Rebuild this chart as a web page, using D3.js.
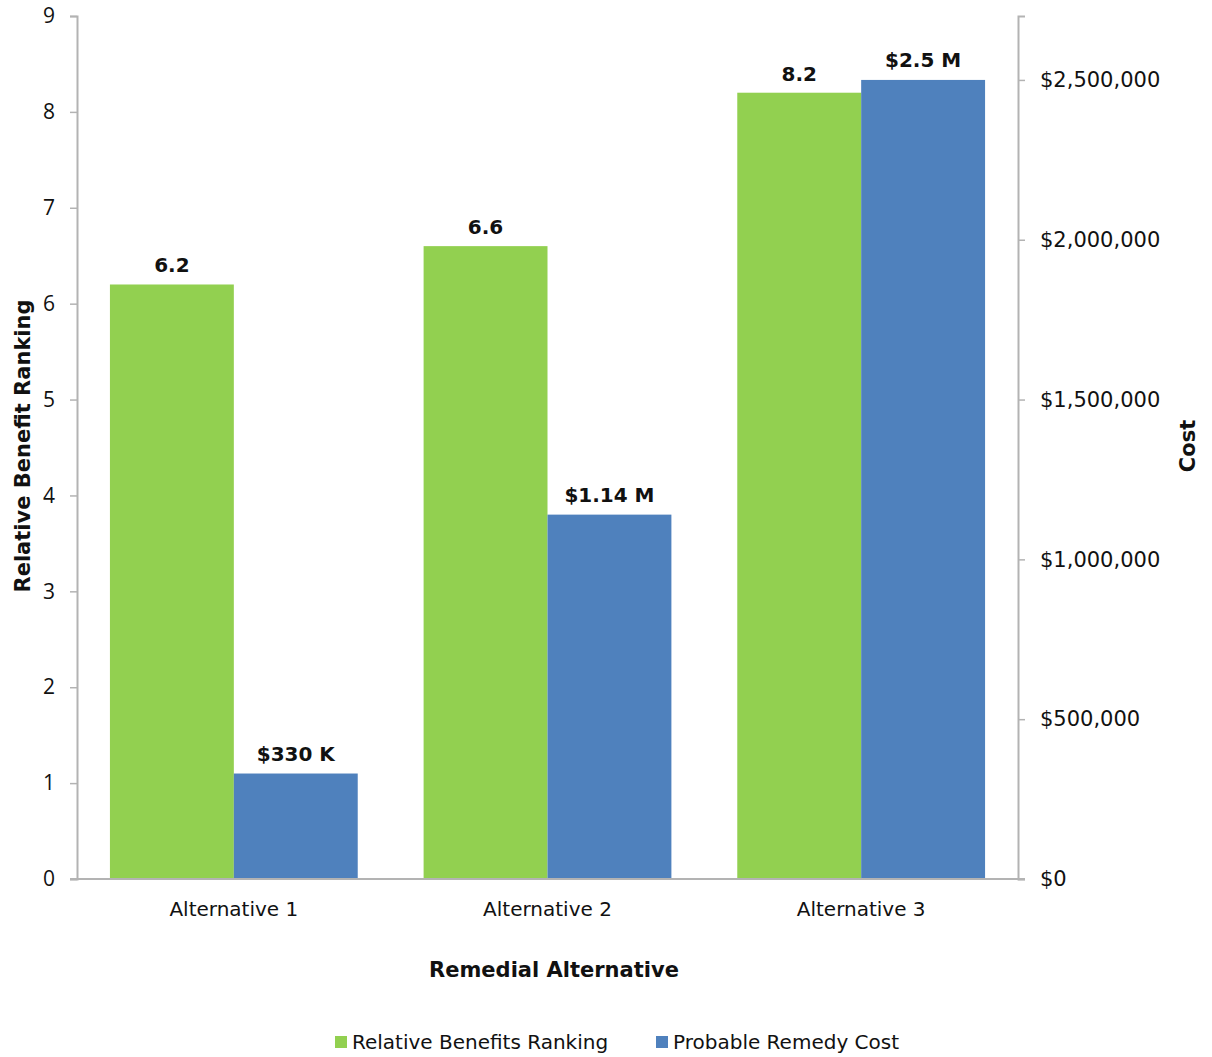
<!DOCTYPE html>
<html>
<head>
<meta charset="utf-8">
<script src="https://cdn.jsdelivr.net/npm/d3@7"></script>
<style>
  body { margin: 0; background: #fff; }
  svg { display: block; }
</style>
</head>
<body>
<svg id="chart" width="1212" height="1057"></svg>
<script>
const categories = ["Alternative 1", "Alternative 2", "Alternative 3"];
const benefitValues = [6.2, 6.6, 8.2];
const costValues = [330000, 1140000, 2500000];
const benefitLabels = ["6.2", "6.6", "8.2"];
const costLabels = ["$330 K", "$1.14 M", "$2.5 M"];
const leftTicks = [0, 1, 2, 3, 4, 5, 6, 7, 8, 9];
const rightTicks = [0, 500000, 1000000, 1500000, 2000000, 2500000];
const seriesNames = ["Relative Benefits Ranking", "Probable Remedy Cost"];
const seriesColors = ["#92D050", "#4F81BD"];

const svg = d3.select("#chart");
const m = { left: 77, right: 1018, top: 16, bottom: 879 };
const axisColor = "#b3b3b3";
const F = "'DejaVu Sans', sans-serif";

const x = d3.scaleBand().domain(categories).range([m.left, m.right]).paddingInner(0.21).paddingOuter(0.105);
const xs = d3.scaleBand().domain([0, 1]).range([0, x.bandwidth()]);
const yL = d3.scaleLinear().domain([0, 9]).range([m.bottom, m.top]);
const yR = d3.scaleLinear().domain([0, 2700000]).range([m.bottom, m.top]);

// Bars
const g = svg.append("g");
categories.forEach((c, i) => {
  g.append("rect")
    .attr("x", x(c) + xs(0)).attr("width", xs.bandwidth())
    .attr("y", yL(benefitValues[i])).attr("height", yL(0) - yL(benefitValues[i]))
    .attr("fill", seriesColors[0]);
  g.append("rect")
    .attr("x", x(c) + xs(1)).attr("width", xs.bandwidth())
    .attr("y", yR(costValues[i])).attr("height", yR(0) - yR(costValues[i]))
    .attr("fill", seriesColors[1]);
  g.append("text")
    .attr("x", x(c) + xs(0) + xs.bandwidth() / 2).attr("y", yL(benefitValues[i]) - 12)
    .attr("text-anchor", "middle").attr("font-family", F).attr("font-size", 20).attr("font-weight", "bold")
    .attr("fill", "#111").text(benefitLabels[i]);
  g.append("text")
    .attr("x", x(c) + xs(1) + xs.bandwidth() / 2).attr("y", yR(costValues[i]) - 13)
    .attr("text-anchor", "middle").attr("font-family", F).attr("font-size", 20).attr("font-weight", "bold")
    .attr("fill", "#111").text(costLabels[i]);
});

// Left axis
const la = svg.append("g").attr("transform", `translate(${m.left},0)`)
  .call(d3.axisLeft(yL).tickValues(leftTicks).tickSize(7).tickPadding(15).tickFormat(d3.format("d")));
la.select(".domain").attr("stroke", axisColor).attr("stroke-width", 2);
la.selectAll(".tick line").attr("stroke", axisColor).attr("stroke-width", 1.5);
la.selectAll("text").attr("font-family", "'Open Sans', sans-serif").attr("font-size", 21).attr("fill", "#111");

// Right axis
const ra = svg.append("g").attr("transform", `translate(${m.right},0)`)
  .call(d3.axisRight(yR).tickValues(rightTicks).tickSize(7).tickPadding(15).tickFormat(d => "$" + d3.format(",")(d)));
ra.select(".domain").attr("stroke", axisColor).attr("stroke-width", 2);
ra.selectAll(".tick line").attr("stroke", axisColor).attr("stroke-width", 1.5);
ra.selectAll("text").attr("font-family", F).attr("font-size", 21).attr("fill", "#111");

// Bottom axis
const ba = svg.append("g").attr("transform", `translate(0,${m.bottom})`)
  .call(d3.axisBottom(x).tickSize(0).tickPadding(23));
ba.select(".domain").remove();
ba.selectAll("text").attr("font-family", F).attr("font-size", 20).attr("fill", "#111");
svg.append("line").attr("x1", m.left - 7).attr("x2", m.right + 7)
  .attr("y1", m.bottom).attr("y2", m.bottom).attr("stroke", axisColor).attr("stroke-width", 2);

// Axis titles
svg.append("text").attr("transform", `translate(30,446) rotate(-90)`)
  .attr("text-anchor", "middle").attr("font-family", F).attr("font-size", 21).attr("font-weight", "bold")
  .attr("fill", "#111").text("Relative Benefit Ranking");
svg.append("text").attr("transform", `translate(1195,446) rotate(-90)`)
  .attr("text-anchor", "middle").attr("font-family", F).attr("font-size", 21).attr("font-weight", "bold")
  .attr("fill", "#111").text("Cost");
svg.append("text").attr("x", 554).attr("y", 977)
  .attr("text-anchor", "middle").attr("font-family", F).attr("font-size", 21).attr("font-weight", "bold")
  .attr("fill", "#111").text("Remedial Alternative");

// Legend
const legendX = [335, 656];
seriesNames.forEach((s, i) => {
  svg.append("rect").attr("x", legendX[i]).attr("y", 1036).attr("width", 12).attr("height", 12).attr("fill", seriesColors[i]);
  svg.append("text").attr("x", legendX[i] + 17).attr("y", 1049)
    .attr("font-family", F).attr("font-size", 20).attr("fill", "#111").text(s);
});
</script>
</body>
</html>
